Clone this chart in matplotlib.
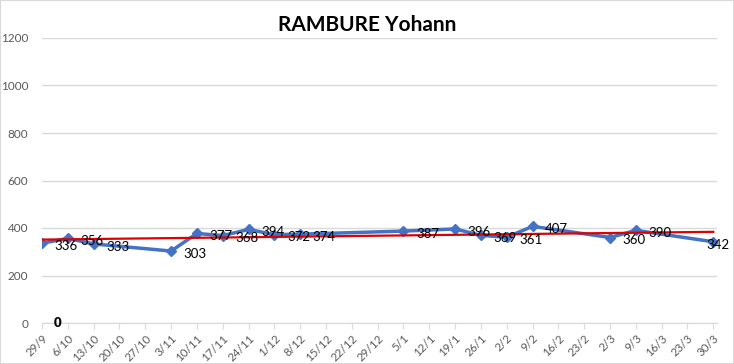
import datetime as dt
import numpy as np
import matplotlib
matplotlib.use("Agg")
import matplotlib.pyplot as plt
import matplotlib.dates as mdates
from matplotlib.patches import Rectangle

title = "RAMBURE Yohann"
start = dt.date(2014, 9, 29)
end = dt.date(2015, 3, 31)
day_offsets = [0, 7, 14, 35, 42, 49, 56, 63, 70, 98, 112, 119, 126, 133, 154, 161, 182]
values = [336, 356, 333, 303, 377, 368, 394, 372, 374, 387, 396, 369, 361, 407, 360, 390, 342]
yticks = [0, 200, 400, 600, 800, 1000, 1200]

dates = [start + dt.timedelta(days=d) for d in day_offsets]
xnum = mdates.date2num(dates)

plt.rcParams['font.family'] = ['Lato', 'DejaVu Sans']

fig = plt.figure(figsize=(7.34, 3.64), dpi=100)
ax = fig.add_axes([42/734, 1-323/364, (717-42)/734, (323-38)/364])

ax.set_ylim(0, 1200)
ax.set_xlim(mdates.date2num(start), mdates.date2num(end))
ax.set_yticks(yticks)
ax.yaxis.grid(True, color='#D9D9D9', lw=1)
ax.set_axisbelow(True)
for s in ['top', 'right', 'left']:
    ax.spines[s].set_visible(False)
ax.spines['bottom'].set_color('#D9D9D9')
ax.tick_params(axis='y', length=0, labelsize=8.5, labelcolor='#595959', pad=10)

tick_dates = [start + dt.timedelta(days=7*i) for i in range(27)]
ax.set_xticks(mdates.date2num(tick_dates))
ax.set_xticklabels([f"{d.day}/{d.month}" for d in tick_dates], rotation=45,
                   ha='right', rotation_mode='anchor')
ax.tick_params(axis='x', length=4, color='#D9D9D9', labelsize=8.3, labelcolor='#595959', pad=3)

ax.plot(xnum, values, color='#4472C4', lw=2.5, marker='D', ms=5, zorder=3)

# linear trendline
coef = np.polyfit(xnum, values, 1)
xt = np.array([mdates.date2num(start), xnum[-1]])
ax.plot(xt, np.polyval(coef, xt), color='#E00000', lw=1.6, zorder=4)

for i, (x, v) in enumerate(zip(xnum, values)):
    off = (9, -2) if i < len(values) - 1 else (-5, -2)
    ax.annotate(str(v), (x, v), xytext=off, textcoords='offset points',
                ha='left', va='center', fontsize=9.5, color='#000000', zorder=5)

ax.annotate("0", (mdates.date2num(start) + 4.3, 0), xytext=(0, 0), textcoords='offset points',
            ha='center', va='center', fontsize=9.5, fontweight='heavy', color='#000000',
            annotation_clip=False)

fig.text(0.5, 1-25/364, title, ha='center', va='center', fontsize=15, fontweight='bold')

fig.patches.append(Rectangle((0, 0), 1, 1, transform=fig.transFigure, fill=False,
                             edgecolor='#D9D9D9', lw=1.5))

fig.savefig("out.png", dpi=100)
